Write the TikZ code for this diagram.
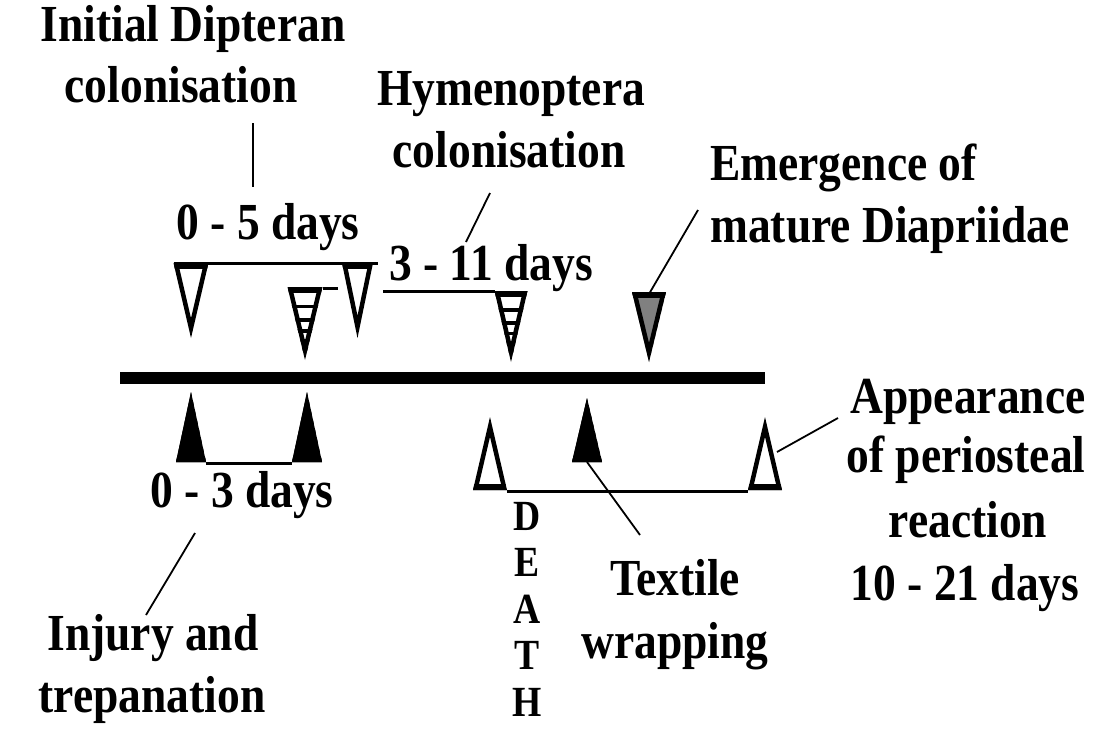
\documentclass[tikz,border=0pt]{standalone}
\usepackage{fontspec}
\setmainfont{Liberation Serif}[FakeStretch=0.875]
\newcommand{\trishape}[6]{% #1 name, #2 apex x, #3 apex y, #4 base y, #5 half width, #6 fill
  \coordinate (#1) at (#2,#3);
  \coordinate (#1-l) at ({#2-#5},#4);
  \coordinate (#1-r) at ({#2+#5},#4);
  \coordinate (#1-b) at (#2,#4);
  \begin{scope}
    \clip (#1) -- (#1-l) -- (#1-r) -- cycle;
    \fill[#6] (#1) -- (#1-l) -- (#1-r) -- cycle;
    \draw[line width=9pt] (#1) -- (#1-l) -- (#1-r) -- cycle;
    \draw[line width=12pt] (#1-l) -- (#1-r);
  \end{scope}
}
\newcommand{\hatchtri}[4]{% #1 apex x, #2 apex y, #3 base y, #4 half width
  \begin{scope}
    \clip (#1,#2) -- ({#1-#4},#3) -- ({#1+#4},#3) -- cycle;
    \foreach \f in {0.27,0.45,0.6,0.73,0.85}
      \draw[line width=3.5pt] ({#1-#4},{#3+(#2-#3)*\f}) -- ({#1+#4},{#3+(#2-#3)*\f});
  \end{scope}
}
\begin{document}
\begin{tikzpicture}[x=1pt,y=-1pt,
  lbl/.style={font=\bfseries\fontsize{52}{62}\selectfont, inner sep=0pt, anchor=base},
  lblw/.style={lbl, anchor=base west},
  span/.style={line width=3pt},
  leader/.style={line width=1.8pt}]
\useasboundingbox[fill=white] (0,0) rectangle (1096,729);

% main bar
\coordinate (bar-l) at (120,378);
\coordinate (bar-r) at (765,378);
\draw[line width=12pt] (bar-l) -- (bar-r);

% top triangles
\trishape{t1}{191}{338}{263}{17.5}{white}
\trishape{t2}{305}{360}{287}{17.5}{white}
\hatchtri{305}{360}{287}{17.5}
\trishape{t3}{357.5}{338}{263}{15.5}{white}
\trishape{t4}{511}{362}{291}{16.5}{white}
\hatchtri{511}{362}{291}{16.5}
\trishape{t5}{649}{362}{292}{17}{black!50}

\coordinate (s1e) at (378,263.5);
\draw[span] ([yshift=-0.5pt]t1-l) -- (s1e);
\coordinate (s2e) at (338,288.5);
\draw[span] ([yshift=-1.5pt]t2-r) -- (s2e);
\coordinate (s3s) at (383,291.5);
\draw[span] (s3s) -- ([yshift=-0.5pt]t4-l);

% bottom triangles
\trishape{b1}{191}{392}{462}{15}{black}
\trishape{b2}{307}{392}{462}{15}{black}
\trishape{b3}{490}{417}{490}{17}{white}
\trishape{b4}{587}{398}{462}{15}{black}
\trishape{b5}{765}{417}{490}{17}{white}
\draw[span] ([yshift=-1.5pt]b1-r) -- ([yshift=-1.5pt]b2-l);
\draw[span] ([yshift=-1.5pt]b3-r) -- ([yshift=-1.5pt]b5-l);

% labels
\node[lbl] (dip1) at (193,41) {Initial Dipteran};
\node[lbl] (dip2) at (181,102) {colonisation};
\node[lbl] (dipd) at (268,239) {0 - 5 days};
\node[lbl] (hym1) at (511,105) {Hymenoptera};
\node[lbl] (hym2) at (509,167) {colonisation};
\node[lbl] (hymd) at (491,280) {3 - 11 days};
\node[lblw] (em1) at (710,180) {Emergence of};
\node[lblw] (em2) at (710,242) {mature Diapriidae};
\node[lbl] (ap1) at (968,413) {Appearance};
\node[lbl] (ap2) at (966,472) {of periosteal};
\node[lbl] (ap3) at (968,537) {reaction};
\node[lbl] (ap4) at (965,600) {10 - 21 days};
\node[lbl] (injd) at (242,507) {0 - 3 days};
\node[lbl] (inj1) at (153,650) {Injury and};
\node[lbl] (inj2) at (152,712) {trepanation};
\node[lbl] (tex1) at (675,595) {Textile};
\node[lbl] (tex2) at (675,658) {wrapping};
\node[font=\bfseries\fontsize{43}{46.5}\selectfont, inner sep=0pt, align=center, anchor=north] (death) at (527,502) {D\\E\\A\\T\\H};

% leaders
\coordinate (l1a) at (253,123);
\coordinate (l1b) at (253,187);
\draw[leader] (l1a) -- (l1b);
\coordinate (l2a) at (490,193);
\coordinate (l2b) at (466,242);
\draw[leader] (l2a) -- (l2b);
\coordinate (l3a) at (698,210);
\draw[leader] (l3a) -- ([yshift=-2pt]t5-b);
\coordinate (l4a) at (777,452);
\coordinate (l4b) at (838,418);
\draw[leader] (l4a) -- (l4b);
\coordinate (l5b) at (640,535);
\draw[leader] (b4-b) -- (l5b);
\coordinate (l6a) at (195,533);
\coordinate (l6b) at (146,615);
\draw[leader] (l6a) -- (l6b);
\end{tikzpicture}
\end{document}
